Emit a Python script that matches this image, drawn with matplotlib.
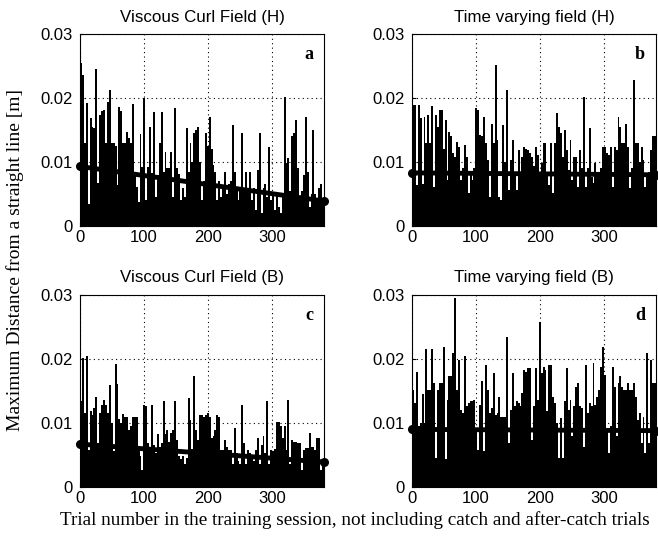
import matplotlib
matplotlib.use("Agg")
import matplotlib.pyplot as plt
import numpy as np

# max distance per block of 3 trials, in mm
viscous_h = [25.4, 23.6, 13.0, 19.2, 3.5, 16.8, 15.5, 15.3, 24.5, 6.7,
             17.3, 17.9, 18.1, 12.9, 19.4, 21.2, 12.9, 12.9, 12.5, 6.4,
             18.6, 17.9, 12.9, 13.0, 14.7, 13.7, 13.0, 19.0, 8.4, 6.1,
             3.8, 14.4, 9.2, 20.0, 4.0, 9.2, 15.5, 8.3, 17.8, 4.5,
             8.0, 13.0, 17.8, 8.5, 11.5, 9.0, 9.0, 11.5, 4.5, 18.5,
             9.0, 8.2, 4.0, 6.0, 4.5, 15.3, 8.5, 12.9, 10.0, 14.5,
             15.0, 15.5, 10.0, 4.0, 7.0, 14.5, 12.5, 17.1, 12.0, 9.5,
             8.5, 4.0, 7.0, 4.5, 6.0, 8.5, 5.0, 6.5, 7.0, 15.8,
             8.5, 6.0, 4.0, 6.0, 14.5, 6.0, 8.5, 6.0, 8.5, 4.0,
             6.0, 2.5, 8.8, 14.5, 2.0, 6.0, 6.5, 4.5, 12.4, 4.0,
             5.0, 2.5, 5.0, 3.0, 2.0, 5.0, 20.2, 9.8, 10.6, 5.5,
             14.0, 14.5, 16.6, 9.0, 4.0, 5.5, 8.0, 17.1, 8.5, 3.0,
             5.0, 15.0, 5.0, 4.0, 6.0, 6.5, 4.0]
timevar_h = [18.9, 18.9, 6.4, 18.9, 16.8, 6.5, 17.1, 12.9, 17.3, 12.9,
             18.75, 6.1, 17.3, 15.5, 18.1, 18.1, 12.0, 16.6, 7.2, 14.7,
             14.0, 11.4, 10.8, 13.2, 12.4, 7.2, 9.0, 12.7, 10.8, 5.1,
             8.2, 7.2, 9.0, 18.4, 18.1, 14.2, 14.0, 17.1, 12.9, 10.3,
             4.6, 16.0, 13.0, 25.2, 13.4, 4.6, 4.1, 15.8, 10.0, 21.3,
             5.6, 10.3, 13.4, 8.2, 5.6, 11.9, 8.2, 10.8, 12.4, 12.1,
             11.9, 11.4, 10.8, 9.3, 12.4, 11.1, 8.2, 9.8, 12.9, 12.9,
             8.2, 6.4, 12.9, 5.1, 12.9, 17.6, 15.5, 14.5, 10.8, 15.0,
             11.9, 8.75, 13.4, 7.2, 10.8, 10.8, 6.1, 11.9, 9.0, 20.2,
             6.1, 9.0, 15.3, 7.7, 6.7, 9.8, 8.2, 8.2, 9.0, 12.4,
             12.4, 11.4, 11.1, 12.4, 6.1, 12.4, 11.9, 17.1, 15.5, 12.9,
             12.9, 16.0, 12.4, 6.0, 9.0, 22.8, 12.9, 12.9, 10.0, 12.4,
             10.3, 6.1, 8.2, 8.5, 11.9, 14.0, 14.0]
viscous_b = [13.4, 20.1, 11.5, 20.5, 5.8, 11.8, 11.3, 12.3, 14.1, 6.5,
             11.5, 12.8, 13.6, 12.8, 11.5, 16.0, 10.0, 5.6, 19.2, 16.1,
             10.6, 10.0, 11.4, 11.0, 11.0, 8.9, 9.5, 11.0, 11.0, 10.9,
             5.8, 4.8, 2.7, 12.8, 12.6, 6.9, 6.3, 12.8, 6.5, 5.3,
             8.2, 6.3, 6.9, 13.4, 8.2, 8.9, 7.0, 8.4, 8.9, 13.4,
             7.4, 4.8, 4.3, 4.8, 3.6, 4.5, 13.9, 10.5, 6.0, 17.4,
             8.9, 7.4, 11.3, 11.3, 11.0, 11.2, 11.5, 11.0, 7.6, 7.9,
             8.9, 11.3, 11.0, 5.8, 5.8, 7.4, 6.3, 5.8, 5.8, 3.6,
             9.2, 5.3, 4.0, 3.6, 12.8, 6.9, 3.6, 5.8, 5.3, 4.8,
             4.0, 5.8, 7.6, 3.6, 6.5, 7.9, 5.3, 13.5, 3.6, 5.8,
             5.6, 6.0, 10.2, 10.2, 9.5, 7.6, 9.5, 5.8, 13.6, 3.6,
             7.4, 7.1, 7.1, 6.9, 6.9, 2.7, 5.8, 6.1, 6.1, 8.4,
             6.3, 6.3, 5.8, 7.6, 7.6, 2.7, 4.3]
timevar_b = [15.2, 13.1, 18.0, 9.5, 10.0, 14.6, 10.0, 21.5, 15.2, 15.2,
             21.5, 16.2, 4.5, 15.2, 16.2, 16.2, 21.9, 4.3, 13.6, 17.3,
             17.3, 20.9, 29.5, 15.2, 19.9, 12.1, 11.6, 20.5, 12.6, 13.1,
             13.4, 13.4, 13.6, 9.2, 5.8, 12.8, 16.5, 5.6, 19.1, 15.2,
             11.5, 12.3, 17.8, 11.3, 11.5, 14.1, 11.0, 11.0, 11.0, 23.4,
             6.9, 12.1, 17.8, 12.6, 13.4, 13.1, 12.6, 14.7, 18.3, 18.0,
             18.6, 18.6, 7.4, 12.6, 18.6, 13.6, 25.8, 17.8, 18.8, 18.3,
             11.8, 19.1, 19.1, 14.1, 13.1, 10.0, 4.5, 10.8, 4.5, 13.4,
             18.6, 12.1, 13.6, 7.9, 12.6, 15.7, 16.2, 12.6, 12.3, 6.3,
             19.1, 11.5, 13.1, 12.6, 19.3, 12.8, 14.1, 15.2, 18.8, 21.9,
             17.5, 8.9, 5.3, 9.5, 18.8, 15.7, 7.9, 16.2, 17.3, 15.7,
             15.2, 15.2, 16.2, 15.2, 15.2, 16.2, 14.1, 10.5, 11.5, 6.9,
             11.0, 5.3, 20.9, 6.9, 19.9, 16.2, 16.2]

# regression line, value at first and last trial (mm)
trend_viscous_h = [9.3, 3.9]
trend_timevar_h = [8.3, 8.0]
trend_viscous_b = [6.7, 3.9]
trend_timevar_b = [9.0, 8.8]

titles = ["Viscous Curl Field (H)", "Time varying field (H)",
          "Viscous Curl Field (B)", "Time varying field (B)"]
letters = ["a", "b", "c", "d"]
series = [viscous_h, timevar_h, viscous_b, timevar_b]
trends = [trend_viscous_h, trend_timevar_h, trend_viscous_b, trend_timevar_b]

block = 3
n_trials = block * len(viscous_h)

fig = plt.figure(figsize=(6.58, 5.52), dpi=100)
pos = [[0.1216, 0.5906], [0.6261, 0.5906], [0.1216, 0.1178], [0.6261, 0.1178]]
w, h = 0.3708, 0.3478

sans = "Liberation Sans"
serif = "Liberation Serif"

for i in range(4):
    ax = fig.add_axes([pos[i][0], pos[i][1], w, h])
    vals = np.array(series[i]) / 1000.0
    x = np.arange(len(vals)) * block
    ax.bar(x, vals, width=block, align='edge', color='k', linewidth=0,
           antialiased=False, zorder=2)
    t = np.array(trends[i]) / 1000.0
    ax.plot([0, n_trials], t, color='k', lw=3.5, zorder=3, clip_on=False)
    ax.plot([0, n_trials], t, 'o', color='k', ms=5.5, zorder=4, clip_on=False)

    ax.set_xlim(0, n_trials)
    ax.set_ylim(0, 0.03)
    ax.set_xticks([0, 100, 200, 300])
    ax.set_yticks([0, 0.01, 0.02, 0.03])
    ax.set_yticklabels(["0", "0.01", "0.02", "0.03"])
    ax.grid(True, color='k', linestyle=(0, (1, 3)), lw=0.8, zorder=1)
    ax.tick_params(direction='in', length=3, labelsize=12)
    ax.tick_params(axis='x', pad=3)
    ax.tick_params(axis='y', pad=5)
    for lab in ax.get_xticklabels() + ax.get_yticklabels():
        lab.set_family(sans)
    for sp in ax.spines.values():
        sp.set_linewidth(0.8)
        sp.set_zorder(5)
    ax.set_title(titles[i], fontsize=12.2, family=sans, pad=9)
    ax.text(0.955, 0.935, letters[i], transform=ax.transAxes, ha='right',
            va='top', fontsize=13, fontweight='bold', family=serif, zorder=6)

fig.text(0.023, 0.529, "Maximum Distance from a straight line [m]", rotation=90,
         ha='center', va='center', fontsize=14, family=serif)
fig.text(0.54, 0.058, "Trial number in the training session, not including catch and after-catch trials",
         ha='center', va='center', fontsize=13.8, family=serif)

fig.savefig("out.png", dpi=100)
